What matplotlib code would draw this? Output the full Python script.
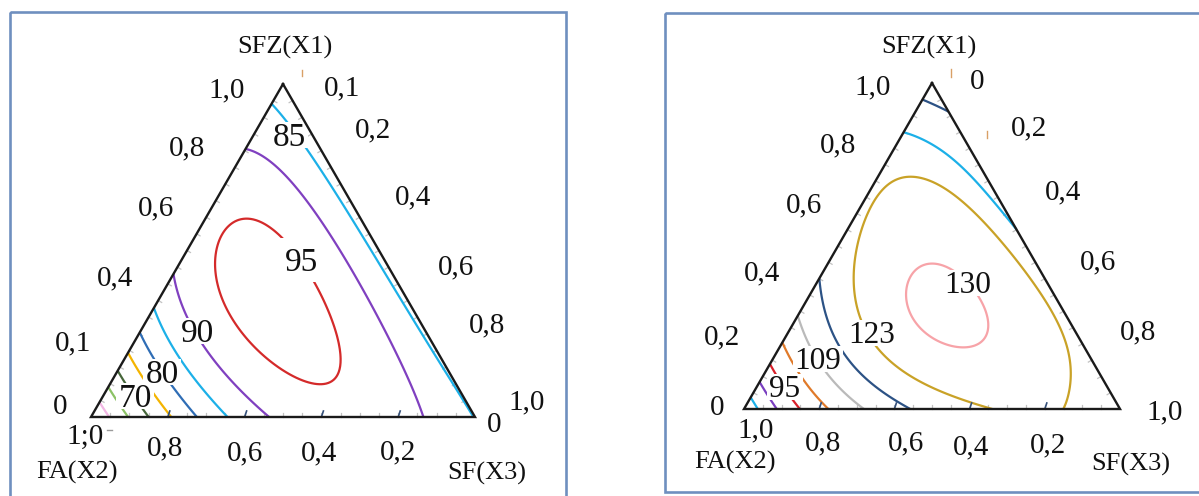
import numpy as np
import matplotlib
matplotlib.use("Agg")
import matplotlib.pyplot as plt
import matplotlib.tri as mtri
from matplotlib.patches import Rectangle
from math import factorial

plt.rcParams['font.family'] = ['Liberation Serif', 'DejaVu Serif']

# ---------------------------------------------------------------- data
# mixture components (apex, bottom-left, bottom-right)
COMPONENTS = ["SFZ(X1)", "FA(X2)", "SF(X3)"]

# fitted response surfaces, Bernstein (Scheffe-type) form in X1, X2, X3;
# coefficients ordered by exponent (a of X1, b of X2), c = degree - a - b
LEFT_DEGREE = 5
LEFT_COEFFS = [84.824, 93.391, 100.409, 92.081, 77.328, 54.862,
               84.577, 96.360, 105.739, 95.687, 78.664,
               83.300, 99.868, 108.364, 96.116,
               83.845, 99.633, 100.297,
               82.639, 90.607,
               82.587]
RIGHT_DEGREE = 6
RIGHT_COEFFS = [119.035, 125.244, 126.664, 123.532, 109.614, 104.406, 74.978,
                121.497, 122.900, 140.226, 136.712, 112.583, 104.887,
                124.995, 136.131, 150.272, 138.462, 114.455,
                119.659, 129.503, 135.547, 128.749,
                116.669, 117.870, 120.033,
                121.716, 126.158,
                112.526]

# contour levels, colours and which levels carry a value label
LEFT_LEVELS = [60, 65, 70, 75, 80, 85, 90, 95]
LEFT_COLORS = ['#f2b6e4', '#8cc266', '#46663a', '#f4b400', '#2f6db5',
               '#1cb0e8', '#8040c0', '#d42a2a']
LEFT_LABELLED = [70, 80, 85, 90, 95]

RIGHT_LEVELS = [81, 88, 95, 102, 109, 116, 120, 123, 130]
RIGHT_COLORS = ['#1cb0e8', '#7a3fc0', '#d8202a', '#e07a2a', '#bababa',
                '#2c5285', '#1cb0e8', '#c9a227', '#f7a3a8']
RIGHT_LABELLED = [95, 109, 123, 130]

# axis tick values and their printed labels
LEFT_X1_TICKS = [1.0, 0.8, 0.6, 0.4, 0.2, 0.0]
LEFT_X1_LABELS = ["1,0", "0,8", "0,6", "0,4", "0,1", "0"]
LEFT_X3_TICKS = [0.1, 0.2, 0.4, 0.6, 0.8, 1.0]
LEFT_X3_LABELS = ["0,1", "0,2", "0,4", "0,6", "0,8", "1,0"]
LEFT_X2_TICKS = [1.0, 0.8, 0.6, 0.4, 0.2, 0.0]
LEFT_X2_LABELS = ["1;0", "0,8", "0,6", "0,4", "0,2", "0"]

RIGHT_X1_TICKS = [1.0, 0.8, 0.6, 0.4, 0.2, 0.0]
RIGHT_X1_LABELS = ["1,0", "0,8", "0,6", "0,4", "0,2", "0"]
RIGHT_X3_TICKS = [0.0, 0.2, 0.4, 0.6, 0.8, 1.0]
RIGHT_X3_LABELS = ["0", "0,2", "0,4", "0,6", "0,8", "1,0"]
RIGHT_X2_TICKS = [1.0, 0.8, 0.6, 0.4, 0.2]
RIGHT_X2_LABELS = ["1,0", "0,8", "0,6", "0,4", "0,2"]

# ---------------------------------------------------------------- layout
LEFT_TRI = dict(apex=(283, 84), bl=(91, 417), br=(475, 417))
RIGHT_TRI = dict(apex=(932, 83), bl=(744, 409), br=(1120, 409))

LEFT_OFFS = dict(
    x1=[(-56, 6), (-57.6, -2.6), (-50.2, -9.2), (-52.8, -5.8), (-56.4, -7.4), (-31, -10)],
    x3=[(39.8, -29.3), (51.6, -20.6), (53.2, -20.2), (57.8, -16.8), (50.4, -25.4), (52, -15)],
    x2=[(-6, 20), (-3, 31), (0, 36), (-2, 36), (0, 35), (19, 8)])
RIGHT_OFFS = dict(
    x1=[(-59, 4), (-56.4, -3.2), (-52.8, -8.4), (-57.2, -5.6), (-59.6, -6.8), (-27, -1)],
    x3=[(45, -1), (59.4, -20.2), (55.8, -21.4), (53.2, -16.6), (55.6, -11.8), (45, 3)],
    x2=[(12, 21), (3.8, 34), (11.6, 34), (1.4, 38), (3.2, 36)])

LEFT_TITLES = [(285, 47), (77, 472), (487, 473)]
RIGHT_TITLES = [(929, 47), (735, 462), (1131, 464)]

LEFT_LABEL_POS = {85: (289, 135), 95: (302, 260), 90: (197, 331), 80: (162, 372), 70: (135, 396)}
LEFT_LABEL_PAD = {95: 11}
RIGHT_LABEL_POS = {130: (968, 283), 123: (872, 333), 109: (818, 359), 95: (785, 387)}
RIGHT_LABEL_PAD = {}

# contour kept only where SFZ stays above and FA below the given limits
RIGHT_REGION = {120: (0.4, 0.3)}

TEXT = '#111111'
EDGE = '#1a1a1a'
BOX = '#6f8fbf'
TICK_SIZE = 21
TITLE_SIZE = 19


def bernstein(x1, x2, x3, deg):
    cols = []
    for a in range(deg + 1):
        for b in range(deg + 1 - a):
            c = deg - a - b
            m = factorial(deg) / (factorial(a) * factorial(b) * factorial(c))
            cols.append(m * x1 ** a * x2 ** b * x3 ** c)
    return np.stack(cols, axis=-1)


N = 160
grid = np.array([(i / N, j / N, 1 - i / N - j / N)
                 for i in range(N + 1) for j in range(N + 1 - i)])


def to_xy(tri, x1, x2, x3):
    (ax_, ay), (bx, by), (cx, cy) = tri['apex'], tri['bl'], tri['br']
    return x1 * ax_ + x2 * bx + x3 * cx, x1 * ay + x2 * by + x3 * cy


def edge_point(tri, comp, v):
    a, bl, br = np.array(tri['apex']), np.array(tri['bl']), np.array(tri['br'])
    if comp == 'x1':
        return bl + v * (a - bl)
    if comp == 'x3':
        return a + v * (br - a)
    return br + v * (bl - br)


fig = plt.figure(figsize=(11.99, 4.96), dpi=100)
ax = fig.add_axes([0, 0, 1, 1])
ax.set_xlim(0, 1199)
ax.set_ylim(496, 0)
ax.axis('off')

# panel frames
ax.add_patch(Rectangle((10, 12), 556, 520, fill=False, ec=BOX, lw=1.9, zorder=1))
ax.add_patch(Rectangle((665, 13), 600, 479, fill=False, ec=BOX, lw=1.9, zorder=1))


def value_label(px, py, s, size, pad):
    em = size * 100 / 72
    w = len(s) * 0.5 * em + 2 * pad
    h = 0.68 * em + 2 * pad
    ax.add_patch(Rectangle((px - w / 2, py - h / 2), w, h, fc='white', ec='none', zorder=4.5))
    ax.text(px, py + 0.33 * em, s, fontsize=size, color=TEXT, ha='center',
            va='baseline', zorder=4.6)


def panel(tri, deg, coeffs, levels, colors, labelled, label_pos, label_pad,
          region, ticks, offs, titles, label_size):
    x1, x2, x3 = grid[:, 0], grid[:, 1], grid[:, 2]
    X, Y = to_xy(tri, x1, x2, x3)
    Z = bernstein(x1, x2, x3, deg) @ np.asarray(coeffs)
    T = mtri.Triangulation(X, Y)
    x1c = x1[T.triangles].mean(axis=1)
    x2c = x2[T.triangles].mean(axis=1)
    for lv, col in zip(levels, colors):
        if lv in region:
            lo1, hi2 = region[lv]
            T.set_mask((x1c < lo1) | (x2c > hi2))
        else:
            T.set_mask(None)
        ax.tricontour(T, Z, levels=[lv], colors=[col], linewidths=1.6, zorder=3)
    T.set_mask(None)

    # minor ticks along the edges
    a, bl, br = np.array(tri['apex']), np.array(tri['bl']), np.array(tri['br'])
    cen = (a + bl + br) / 3
    for p0, p1 in [(bl, a), (a, br), (br, bl)]:
        d = p1 - p0
        n = np.array([-d[1], d[0]]) / np.hypot(*d)
        if np.dot(cen - p0, n) < 0:
            n = -n
        for k in range(1, 20):
            p = p0 + k / 20 * d
            ax.plot([p[0], p[0] + 4 * n[0]], [p[1], p[1] + 4 * n[1]],
                    color='#c2c2c2', lw=0.9, zorder=2)
    for v in [0.2, 0.4, 0.6, 0.8]:
        p = edge_point(tri, 'x2', v)
        ax.plot([p[0], p[0] + 2], [p[1], p[1] - 6], color='#34507a', lw=1.2, zorder=4)

    # contour value labels
    for lv in labelled:
        px, py = label_pos[lv]
        value_label(px, py, f"{lv}", label_size, label_pad.get(lv, 2))

    # triangle outline
    ax.plot([a[0], bl[0], br[0], a[0]], [a[1], bl[1], br[1], a[1]],
            color=EDGE, lw=1.7, solid_joinstyle='miter', zorder=5)

    # tick labels
    for comp in ['x1', 'x3', 'x2']:
        vals, texts = ticks[comp]
        for v, t, (dx, dy) in zip(vals, texts, offs[comp]):
            p = edge_point(tri, comp, v)
            ax.text(p[0] + dx, p[1] + dy, t, fontsize=TICK_SIZE, color=TEXT,
                    ha='center', va='center', zorder=6)

    # component titles
    for name, (tx, ty) in zip(COMPONENTS, titles):
        ax.text(tx, ty, name, fontsize=TITLE_SIZE, color=TEXT, ha='center',
                va='center', zorder=6)


panel(LEFT_TRI, LEFT_DEGREE, LEFT_COEFFS, LEFT_LEVELS, LEFT_COLORS,
      LEFT_LABELLED, LEFT_LABEL_POS, LEFT_LABEL_PAD, {},
      dict(x1=(LEFT_X1_TICKS, LEFT_X1_LABELS), x3=(LEFT_X3_TICKS, LEFT_X3_LABELS),
           x2=(LEFT_X2_TICKS, LEFT_X2_LABELS)),
      LEFT_OFFS, LEFT_TITLES, 24)
panel(RIGHT_TRI, RIGHT_DEGREE, RIGHT_COEFFS, RIGHT_LEVELS, RIGHT_COLORS,
      RIGHT_LABELLED, RIGHT_LABEL_POS, RIGHT_LABEL_PAD, RIGHT_REGION,
      dict(x1=(RIGHT_X1_TICKS, RIGHT_X1_LABELS), x3=(RIGHT_X3_TICKS, RIGHT_X3_LABELS),
           x2=(RIGHT_X2_TICKS, RIGHT_X2_LABELS)),
      RIGHT_OFFS, RIGHT_TITLES, 22.5)

# small stray marks near the top vertices and beside the FA label
for (xa, ya, xb, yb) in [(302, 70, 302, 76), (951, 69, 951, 77), (987, 131, 987, 138)]:
    ax.plot([xa, xb], [ya, yb], color='#d9a066', lw=1.0, zorder=2)
ax.plot([107, 112], [430, 430], color='#9a9a9a', lw=1.0, zorder=2)

fig.savefig('out.png', dpi=100)
